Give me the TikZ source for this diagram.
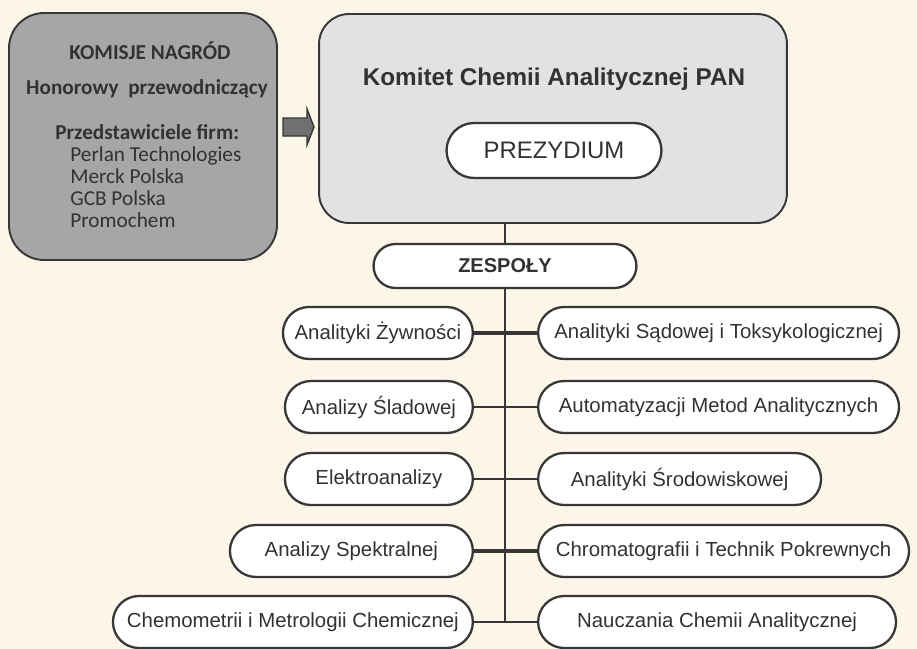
\documentclass[tikz,border=0pt]{standalone}
\usepackage{fontspec}
\setmainfont{Liberation Sans}
\newfontfamily\calibri{Carlito}
\usetikzlibrary{calc, shapes.misc, positioning}

\definecolor{tlo}{RGB}{252,246,232}
\definecolor{ramka}{RGB}{55,55,55}
\definecolor{szary}{RGB}{166,166,166}
\definecolor{jasny}{RGB}{226,226,228}
\definecolor{napis}{RGB}{50,50,50}
\definecolor{strzal}{RGB}{112,112,112}

\tikzset{
  pill/.style={rounded rectangle, draw=ramka, line width=1.3pt, fill=white,
    minimum height=1.04cm, inner sep=2pt, text=napis,
    font=\fontsize{11.6}{14}\selectfont},
  gruba/.style={draw=ramka, line width=2.4pt},
  cienka/.style={draw=ramka, line width=1.1pt},
  komisja/.style={text=napis, inner sep=0pt, font=\calibri\fontsize{12.1}{14}\selectfont},
  komisjab/.style={komisja, font=\calibri\bfseries\fontsize{12.1}{14}\selectfont}
}

\begin{document}
\begin{tikzpicture}[x=0.02cm, y=-0.02cm]

% Background
\fill[tlo] (0,0) rectangle (917,649);
\useasboundingbox (0,0) rectangle (917,649);

% Prize committees box
\node[draw=ramka, line width=1.1pt, fill=szary, rounded corners=0.7cm,
  minimum width=5.36cm, minimum height=4.94cm] (komisje) at (143,136.5) {};
\node[komisjab, anchor=mid] (nagrody) at (150,55) {KOMISJE NAGRÓD};
\node[komisjab, anchor=mid] (honorowy) at (147,90) {Honorowy\ \ przewodniczący};
\node[komisjab, anchor=mid west] (firmy) at (55,135) {Przedstawiciele firm:};
\node[komisja, anchor=mid west] (perlan) at (70,157) {Perlan Technologies};
\node[komisja, anchor=mid west] (merck) at (70,179) {Merck Polska};
\node[komisja, anchor=mid west] (gcb) at (70,201) {GCB Polska};
\node[komisja, anchor=mid west] (promochem) at (70,223) {Promochem};

% Committee box
\node[draw=ramka, line width=1.1pt, fill=jasny, rounded corners=0.6cm,
  minimum width=9.36cm, minimum height=4.18cm] (komitet) at (553,118.5) {};
\node[text=napis, anchor=mid, font=\bfseries\fontsize{13.8}{16}\selectfont] (tytul)
  at (554,81) {Komitet Chemii Analitycznej PAN};
\node[pill, minimum width=4.44cm, minimum height=1.1cm,
  font=\fontsize{13.6}{16}\selectfont] (prezydium) at (554,150.5) {PREZYDIUM};

% Block arrow
\draw[ramka, line width=0.8pt, fill=strzal] (283,118) -- (307,118) -- (307,109)
  -- (314,127) -- (307,145) -- (307,136) -- (283,136) -- cycle;

% Teams
\node[pill, minimum width=5.4cm, minimum height=0.88cm,
  font=\bfseries\fontsize{11.4}{14}\selectfont] (zespoly) at (505,266) {ZESPOŁY};

\node[pill, anchor=east, minimum width=3.94cm] (l1) at (474,333) {Analityki Żywności};
\node[pill, anchor=east, minimum width=3.9cm] (l2) at (474,407) {Analizy Śladowej};
\node[pill, anchor=east, minimum width=3.9cm] (l3) at (474,479) {Elektroanalizy};
\node[pill, anchor=east, minimum width=5.0cm] (l4) at (474,551) {Analizy Spektralnej};
\node[pill, anchor=east, minimum width=7.34cm] (l5) at (474,622) {Chemometrii i Metrologii Chemicznej};

\node[pill, anchor=west, minimum width=7.36cm] (r1) at (537,333) {Analityki Sądowej i Toksykologicznej};
\node[pill, anchor=west, minimum width=7.36cm] (r2) at (537,407) {Automatyzacji Metod Analitycznych};
\node[pill, anchor=west, minimum width=5.8cm] (r3) at (537,479) {Analityki Środowiskowej};
\node[pill, anchor=west, minimum width=7.56cm] (r4) at (537,551) {Chromatografii i Technik Pokrewnych};
\node[pill, anchor=west, minimum width=7.3cm] (r5) at (537,622) {Nauczania Chemii Analitycznej};

% Trunk
\draw[cienka] (zespoly.north) -- (zespoly.north |- komitet.south);
\draw[cienka] (zespoly.south) -- (zespoly.south |- l5.east);

% Connectors
\draw[gruba] (l1.east) -- (r1.west);
\draw[cienka] (l2.east) -- (r2.west);
\draw[cienka] (l3.east) -- (r3.west);
\draw[gruba] (l4.east) -- (r4.west);
\draw[cienka] (l5.east) -- (r5.west);

\end{tikzpicture}
\end{document}
